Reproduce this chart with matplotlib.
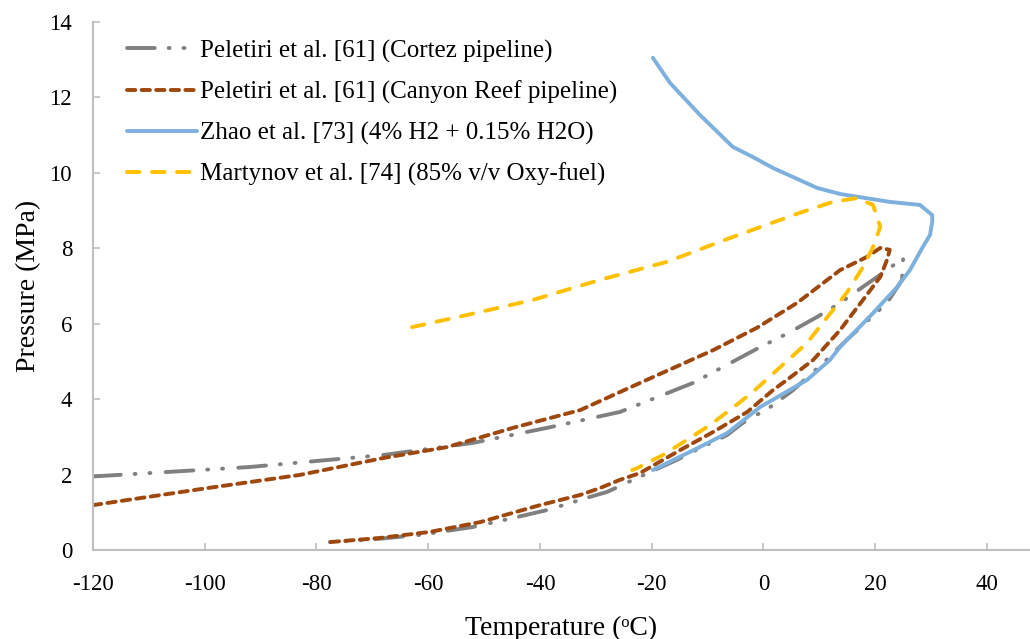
import matplotlib
matplotlib.use("Agg")
import matplotlib.pyplot as plt

plt.rcParams['font.family'] = ['Liberation Serif', 'DejaVu Serif']
plt.rcParams['lines.scale_dashes'] = False
plt.rcParams['axes.unicode_minus'] = False

# Peletiri et al. [61] (Cortez pipeline)
cortez_T = [-120, -92, -68, -52, -38.7, -25.7, -12.6, -0.6, 4.4, 9.6, 13.7, 18.5, 22.1, 25.0,
            24.8, 22.1, 14.9, 11.0, 5.3, 1.2, -3.7, -6.5, -11.4, -15.5, -22.6, -28.0, -31.0,
            -38.7, -44.8, -52.0, -61.5, -70.0, -77.6]
cortez_P = [1.95, 2.20, 2.52, 2.84, 3.24, 3.66, 4.43, 5.38, 5.75, 6.18, 6.55, 7.05, 7.42, 7.75,
            7.16, 6.55, 5.57, 5.00, 4.24, 3.79, 3.37, 3.05, 2.70, 2.39, 1.91, 1.54, 1.41,
            1.06, 0.85, 0.61, 0.40, 0.28, 0.21]

# Peletiri et al. [61] (Canyon Reef pipeline)
canyon_T = [-120, -99.6, -83, -68, -56.6, -44.8, -32.8, -20.9, -9.0, -1.2, 6.0, 13.7, 18.5, 20.9,
            22.6, 22.1, 20.9, 17.8, 13.7, 8.9, 4.2, 1.7, -2.9, -9.0, -14.9, -22.1, -25.7, -29.3,
            -32.8, -40.0, -50.7, -59.7, -68.6, -77.6]
canyon_P = [1.19, 1.64, 1.99, 2.44, 2.73, 3.24, 3.71, 4.51, 5.30, 5.89, 6.55, 7.42, 7.77, 8.01,
            7.96, 7.69, 7.24, 6.63, 5.83, 5.04, 4.51, 4.24, 3.66, 3.13, 2.65, 2.04, 1.86, 1.64,
            1.46, 1.19, 0.74, 0.48, 0.32, 0.21]

# Zhao et al. [73] (4% H2 + 0.15% H2O)
zhao_T = [-19.8, -16.7, -11.4, -5.5, -1.9, 1.7, 9.6, 13.7, 22.6, 28.0, 30.2, 30.2, 29.8, 28.5,
          26.2, 23.9, 19.6, 13.7, 11.9, 7.8, -0.6, -6.5, -11.4, -19.8]
zhao_P = [13.05, 12.38, 11.54, 10.69, 10.42, 10.13, 9.60, 9.44, 9.23, 9.15, 8.88, 8.70, 8.35, 8.03,
          7.42, 6.97, 6.28, 5.38, 5.04, 4.51, 3.79, 3.10, 2.73, 2.12]

# Martynov et al. [74] (85% v/v Oxy-fuel)
mart_T = [-62.9, -53.1, -41.3, -29.3, -17.3, -5.5, 6.5, 12.4, 16.7, 19.6, 20.9, 19.6, 17.8, 14.9,
          10.6, 7.8, 3.0, -1.9, -5.5, -9.6, -13.7, -18.0, -22.6, -23.5]
mart_P = [5.91, 6.23, 6.63, 7.16, 7.64, 8.30, 8.94, 9.23, 9.33, 9.15, 8.57, 8.03, 7.50, 6.82,
          6.02, 5.49, 4.85, 4.19, 3.77, 3.31, 2.92, 2.52, 2.17, 2.12]

labels = ["Peletiri et al. [61] (Cortez pipeline)",
          "Peletiri et al. [61] (Canyon Reef pipeline)",
          "Zhao et al. [73] (4% H2 + 0.15% H2O)",
          "Martynov et al. [74] (85% v/v Oxy-fuel)"]
x_ticks = [-120, -100, -80, -60, -40, -20, 0, 20, 40]
y_ticks = [0, 2, 4, 6, 8, 10, 12, 14]

fig = plt.figure(figsize=(10.30, 6.39), dpi=100)
ax = fig.add_axes([93/1030, 1 - 550/639, 1 - 93/1030, (550 - 22)/639])

ax.plot(cortez_T, cortez_P, color='#808080', lw=2.8, dashes=(20, 10, 0.7, 10, 0.7, 11),
        dash_capstyle='round', label=labels[0])
ax.plot(canyon_T, canyon_P, color='#9E480E', lw=2.8, dashes=(6, 4.5),
        dash_capstyle='round', label=labels[1])
ax.plot(zhao_T, zhao_P, color='#7EB0DE', lw=2.8, solid_capstyle='round', label=labels[2])
ax.plot(mart_T, mart_P, color='#FFC000', lw=2.8, dashes=(9, 9),
        dash_capstyle='round', label=labels[3])

ax.set_xlim(-120, 47.7)
ax.set_ylim(0, 14)
ax.set_xticks(x_ticks)
ax.set_yticks(y_ticks)
for s in ['top', 'right']:
    ax.spines[s].set_visible(False)
for s in ['left', 'bottom']:
    ax.spines[s].set_color('#BFBFBF')
    ax.spines[s].set_linewidth(1.5)
ax.tick_params(direction='in', length=5, width=1.2, color='#BFBFBF', labelsize=16.5,
               labelcolor='black')
ax.tick_params(axis='x', pad=17)
ax.tick_params(axis='y', pad=15)
ax.set_xlabel('Temperature (ᵒC)', fontsize=20, labelpad=15)
ax.set_ylabel('Pressure (MPa)', fontsize=20, labelpad=6)

leg = ax.legend(loc='upper left', bbox_to_anchor=(0.018, 1.0), frameon=False, fontsize=18,
                handlelength=2.8, handletextpad=0.1, labelspacing=0.72, borderaxespad=0.3)

fig.savefig('out.png', dpi=100)
